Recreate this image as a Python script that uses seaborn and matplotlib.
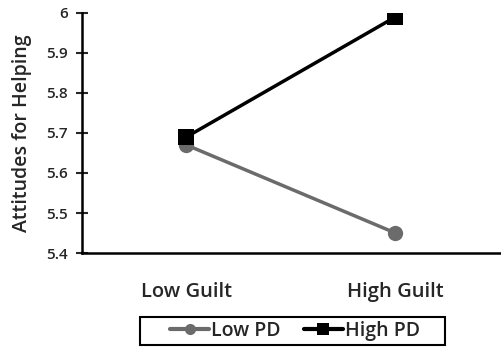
import pandas as pd
import matplotlib
matplotlib.use('Agg')
import matplotlib.pyplot as plt
from matplotlib.patches import Rectangle
import seaborn as sns

guilt = ['Low Guilt', 'High Guilt']
low_pd = [5.67, 5.45]
high_pd = [5.69, 5.99]

sns.set_style('white')
plt.rcParams['font.family'] = ['Open Sans', 'DejaVu Sans']

data = pd.DataFrame({
    'Guilt': guilt * 2,
    'Score': low_pd + high_pd,
    'PD': ['Low PD'] * 2 + ['High PD'] * 2,
})

fig = plt.figure(figsize=(5.02, 3.49), dpi=100)
ax = fig.add_axes([0.163, 0.275, 0.833, 0.688])

sns.lineplot(data=data, x='Guilt', y='Score', hue='PD', style='PD',
             palette={'Low PD': '#6b6b6b', 'High PD': '#000000'},
             markers={'Low PD': 'o', 'High PD': 's'}, dashes=False,
             markersize=11, linewidth=2.5, markeredgewidth=0, ax=ax)

ax.set_xlim(-0.5, 1.5)
ax.set_ylim(5.4, 6.0)
ax.set_yticks([5.4, 5.5, 5.6, 5.7, 5.8, 5.9, 6.0])
ax.set_yticklabels(['5.4', '5.5', '5.6', '5.7', '5.8', '5.9', '6'],
                   fontsize=11, fontweight='semibold')
for t in ax.get_xticklabels():
    t.set_fontweight('semibold')
ax.set_xlabel('')
ax.set_ylabel('Attitudes for Helping', fontsize=14, labelpad=10, fontweight='semibold')
ax.tick_params(axis='y', direction='inout', length=8, width=1.5, left=True, pad=6)
ax.tick_params(axis='x', length=0, labelsize=14.5, pad=21)

for side in ['top', 'right']:
    ax.spines[side].set_visible(False)
for side in ['left', 'bottom']:
    ax.spines[side].set_linewidth(1.8)
    ax.spines[side].set_color('black')

# legend without its own frame; a wider box is drawn round it
handles, labels = ax.get_legend_handles_labels()
leg = ax.legend(handles, labels, loc='center', bbox_to_anchor=(0.51, -0.325),
                ncol=2, frameon=False, prop={'size': 14, 'weight': 'semibold'},
                handlelength=2.0, handletextpad=0.1, columnspacing=1.2,
                borderpad=0, borderaxespad=0)
for h in leg.legend_handles:
    h.set_markersize(8)
    h.set_linewidth(3)

box = Rectangle((0.139, -0.383), 0.729, 0.116, transform=ax.transAxes,
                fill=False, edgecolor='black', linewidth=1.5, clip_on=False)
ax.add_patch(box)

fig.savefig('out.png', dpi=100)
